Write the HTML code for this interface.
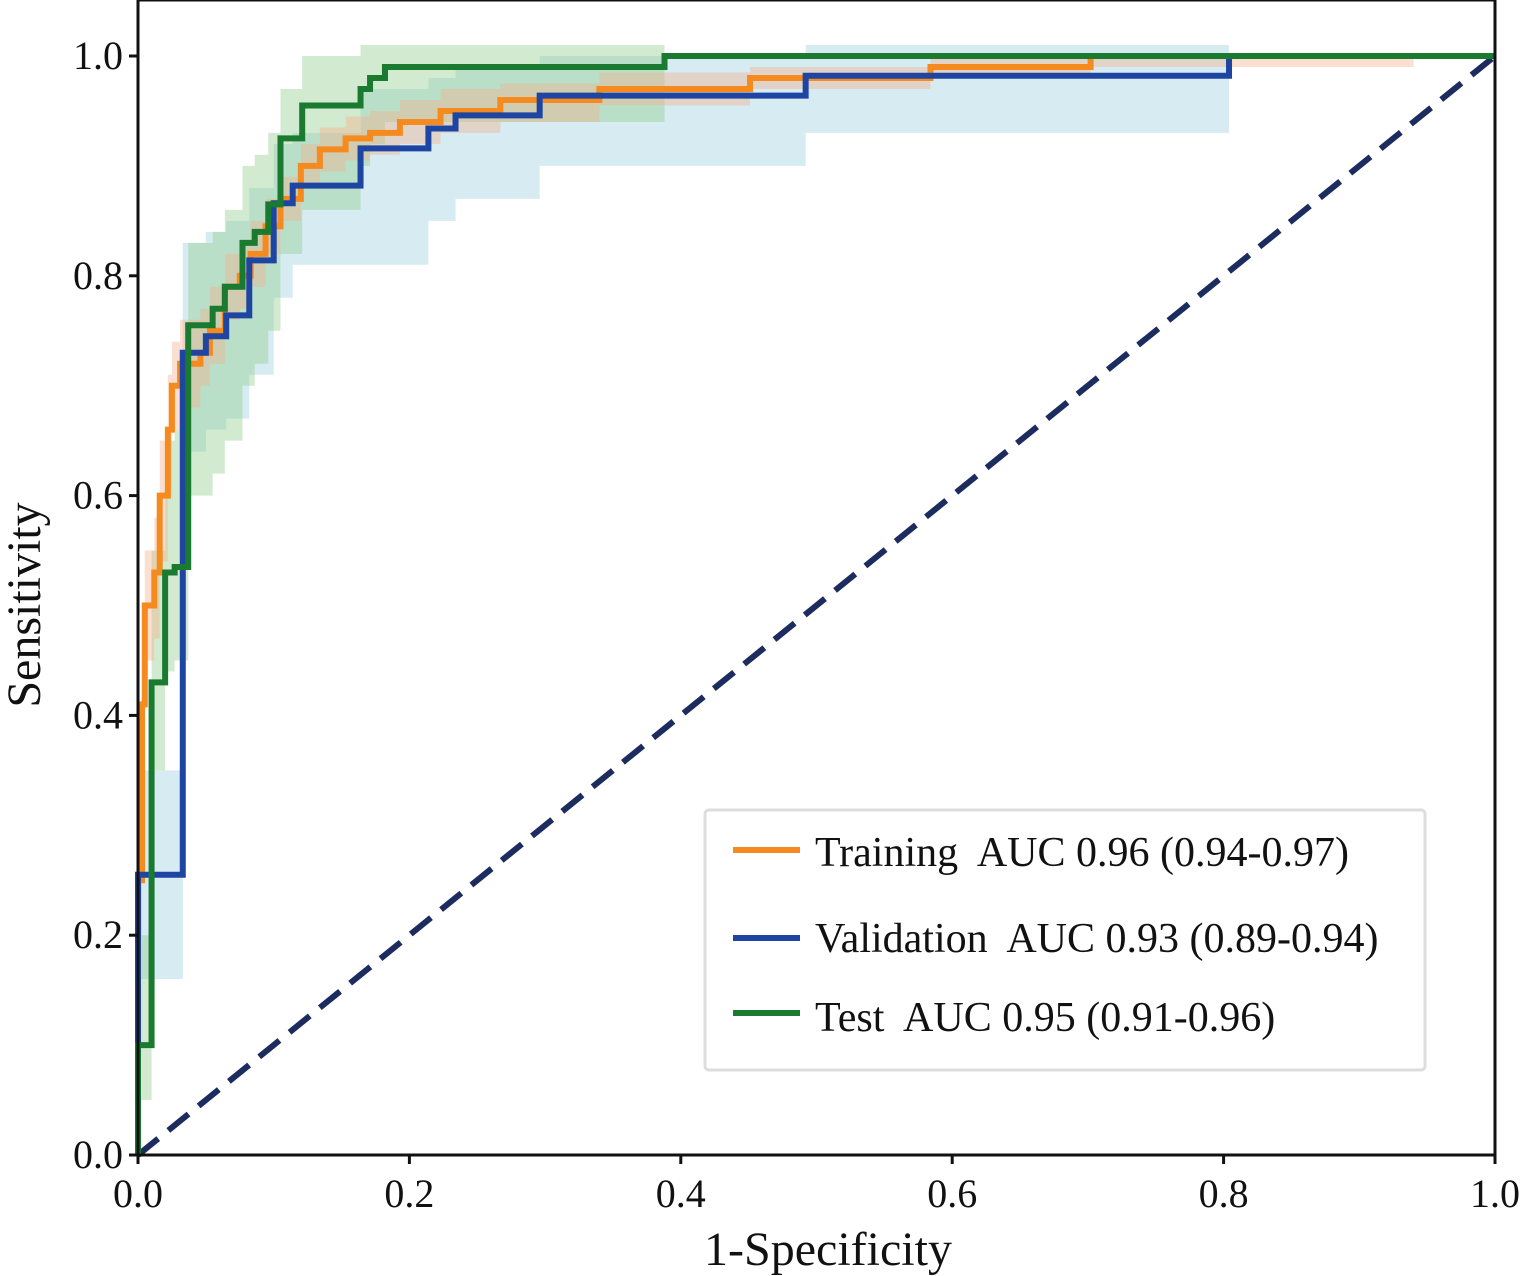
<!DOCTYPE html>
<html><head><meta charset="utf-8"><style>
html,body{margin:0;padding:0;background:#fff;}
svg{display:block;font-family:"Liberation Serif",serif;}
.leg{white-space:pre;}
</style></head><body>
<svg id="chart" width="1524" height="1276" xmlns="http://www.w3.org/2000/svg">
<g id="bands"></g>
<g id="lines"></g>
<g id="axes"></g>
<g>
<rect x="705" y="810" width="720" height="260" rx="4" fill="#fff" fill-opacity="0.85" stroke="#ddd" stroke-width="3"/>
<line x1="733" y1="850" x2="800" y2="850" stroke="#f58a1f" stroke-width="6"/>
<text class="leg" x="815" y="866" font-size="42" fill="#111">Training  AUC 0.96 (0.94-0.97)</text>
<line x1="733" y1="938" x2="800" y2="938" stroke="#1f45a3" stroke-width="6"/>
<text class="leg" x="815" y="952" font-size="42" fill="#111">Validation  AUC 0.93 (0.89-0.94)</text>
<line x1="733" y1="1013" x2="800" y2="1013" stroke="#197a30" stroke-width="6"/>
<text class="leg" x="815" y="1031" font-size="42" fill="#111">Test  AUC 0.95 (0.91-0.96)</text>
</g>
<text x="828" y="1265" font-size="48" text-anchor="middle" fill="#111">1-Specificity</text>
<text transform="translate(40,605) rotate(-90)" font-size="48" text-anchor="middle" fill="#111">Sensitivity</text>
</svg>
<script>
const xTicks=[0,0.2,0.4,0.6,0.8,1.0];
const yTicks=[0,0.2,0.4,0.6,0.8,1.0];
const trainX=[0,0.003,0.005,0.012,0.016,0.022,0.025,0.031,0.046,0.053,0.064,0.075,0.083,0.094,0.105,0.12,0.134,0.153,0.171,0.193,0.223,0.267,0.34,0.451,0.584,0.702,0.94];
const trainY=[0.25,0.41,0.5,0.53,0.6,0.66,0.7,0.72,0.73,0.75,0.79,0.8,0.82,0.845,0.87,0.9,0.915,0.925,0.93,0.94,0.95,0.96,0.97,0.98,0.99,1.0,1.0];
const valX=[0,0.033,0.05,0.065,0.082,0.1,0.114,0.164,0.214,0.234,0.296,0.492,0.804,1.0];
const valY=[0.255,0.73,0.745,0.764,0.814,0.866,0.882,0.916,0.934,0.946,0.964,0.982,1.0,1.0];
const testX=[0,0.01,0.02,0.027,0.037,0.055,0.064,0.077,0.086,0.096,0.105,0.121,0.164,0.171,0.182,0.388,1.0];
const testY=[0.1,0.43,0.53,0.535,0.755,0.77,0.79,0.83,0.84,0.865,0.925,0.955,0.97,0.98,0.99,1.0,1.0];
const trainLo=[0.2,0.35,0.45,0.47,0.54,0.6,0.66,0.68,0.7,0.72,0.76,0.77,0.79,0.82,0.85,0.88,0.895,0.905,0.91,0.92,0.93,0.94,0.955,0.97,0.98,0.99,0.99];
const trainHi=[0.3,0.46,0.55,0.58,0.65,0.71,0.74,0.76,0.77,0.79,0.82,0.83,0.85,0.87,0.89,0.92,0.935,0.945,0.95,0.96,0.97,0.975,0.985,0.99,1.0,1.0,1.0];
const valLo=[0.16,0.64,0.66,0.67,0.71,0.78,0.81,0.81,0.85,0.87,0.9,0.93,0.95,0.95];
const valHi=[0.35,0.83,0.84,0.85,0.88,0.92,0.93,0.97,0.98,0.99,1.0,1.01,1.01,1.0];
const testLo=[0.05,0.35,0.44,0.45,0.6,0.62,0.65,0.7,0.72,0.75,0.82,0.86,0.9,0.92,0.94,0.96,1.0];
const testHi=[0.2,0.55,0.65,0.66,0.83,0.84,0.86,0.9,0.91,0.93,0.97,1.0,1.01,1.01,1.01,1.01,1.0];
const X=v=>138+v*1357, Y=v=>1155-v*1099;
const NS="http://www.w3.org/2000/svg";
function mk(tag,parent,attrs){const e=document.createElementNS(NS,tag);for(const k in attrs)e.setAttribute(k,attrs[k]);parent.appendChild(e);return e;}
function stepPath(xs,ys){let d=`M${X(0)},${Y(0)}`;let py=0;for(let i=0;i<xs.length;i++){d+=` L${X(xs[i])},${Y(py)} L${X(xs[i])},${Y(ys[i])}`;py=ys[i];}d+=` L${X(1)},${Y(py)}`;return d;}
function bandPath(xs0,lo0,hi0,xe){
 const idx=[];xs0.forEach((x,i)=>{if(x<xe)idx.push(i);});
 const xs=idx.map(i=>xs0[i]),lo=idx.map(i=>lo0[i]),hi=idx.map(i=>hi0[i]);
 let d=`M${X(xs[0])},${Y(hi[0])}`;for(let i=1;i<xs.length;i++){d+=` L${X(xs[i])},${Y(hi[i-1])} L${X(xs[i])},${Y(hi[i])}`;}
 d+=` L${X(xe)},${Y(hi[hi.length-1])} L${X(xe)},${Y(lo[lo.length-1])}`;for(let i=xs.length-1;i>=1;i--){d+=` L${X(xs[i])},${Y(lo[i])} L${X(xs[i])},${Y(lo[i-1])}`;}d+=` L${X(xs[0])},${Y(lo[0])} Z`;return d;}
const bands=document.getElementById('bands'),lines=document.getElementById('lines'),axes=document.getElementById('axes');
let b;
b=mk('path',bands,{d:bandPath(valX,valLo,valHi,0.804),fill:'#add8e6',opacity:0.5});


b=mk('path',bands,{d:bandPath(testX,testLo,testHi,0.388),fill:'#8fcc8a',opacity:0.4});


b=mk('path',bands,{d:bandPath(trainX,trainLo,trainHi,0.94),fill:'#f4b08a',opacity:0.4});


let l=mk('line',lines,{x1:X(0),y1:Y(0),x2:X(1),y2:Y(1),stroke:'#1d2c5e','stroke-width':6,'stroke-dasharray':'26,13'});


l=mk('path',lines,{d:stepPath(trainX,trainY),fill:'none',stroke:'#f58a1f','stroke-width':6});


l=mk('path',lines,{d:stepPath(valX,valY),fill:'none',stroke:'#1f45a3','stroke-width':6});


l=mk('path',lines,{d:stepPath(testX,testY),fill:'none',stroke:'#197a30','stroke-width':6});


let f=mk('rect',axes,{x:X(0),y:Y(1.0)-56,width:X(1)-X(0),height:Y(0)-Y(1)+56,fill:'none',stroke:'#111','stroke-width':3});


xTicks.forEach(v=>{
 const t=mk('line',axes,{x1:X(v),y1:Y(0),x2:X(v),y2:Y(0)+9,stroke:'#111','stroke-width':3});
 
 
 const tx=mk('text',axes,{x:X(v),y:1207,'font-size':40,'text-anchor':'middle',fill:'#111'});tx.textContent=v.toFixed(1);
 
 
});
yTicks.forEach(v=>{
 const t=mk('line',axes,{x1:X(0)-9,y1:Y(v),x2:X(0),y2:Y(v),stroke:'#111','stroke-width':3});
 
 
 const tx=mk('text',axes,{x:123,y:Y(v)+13,'font-size':40,'text-anchor':'end',fill:'#111'});tx.textContent=v.toFixed(1);
 
 
});
</script>
</body></html>
